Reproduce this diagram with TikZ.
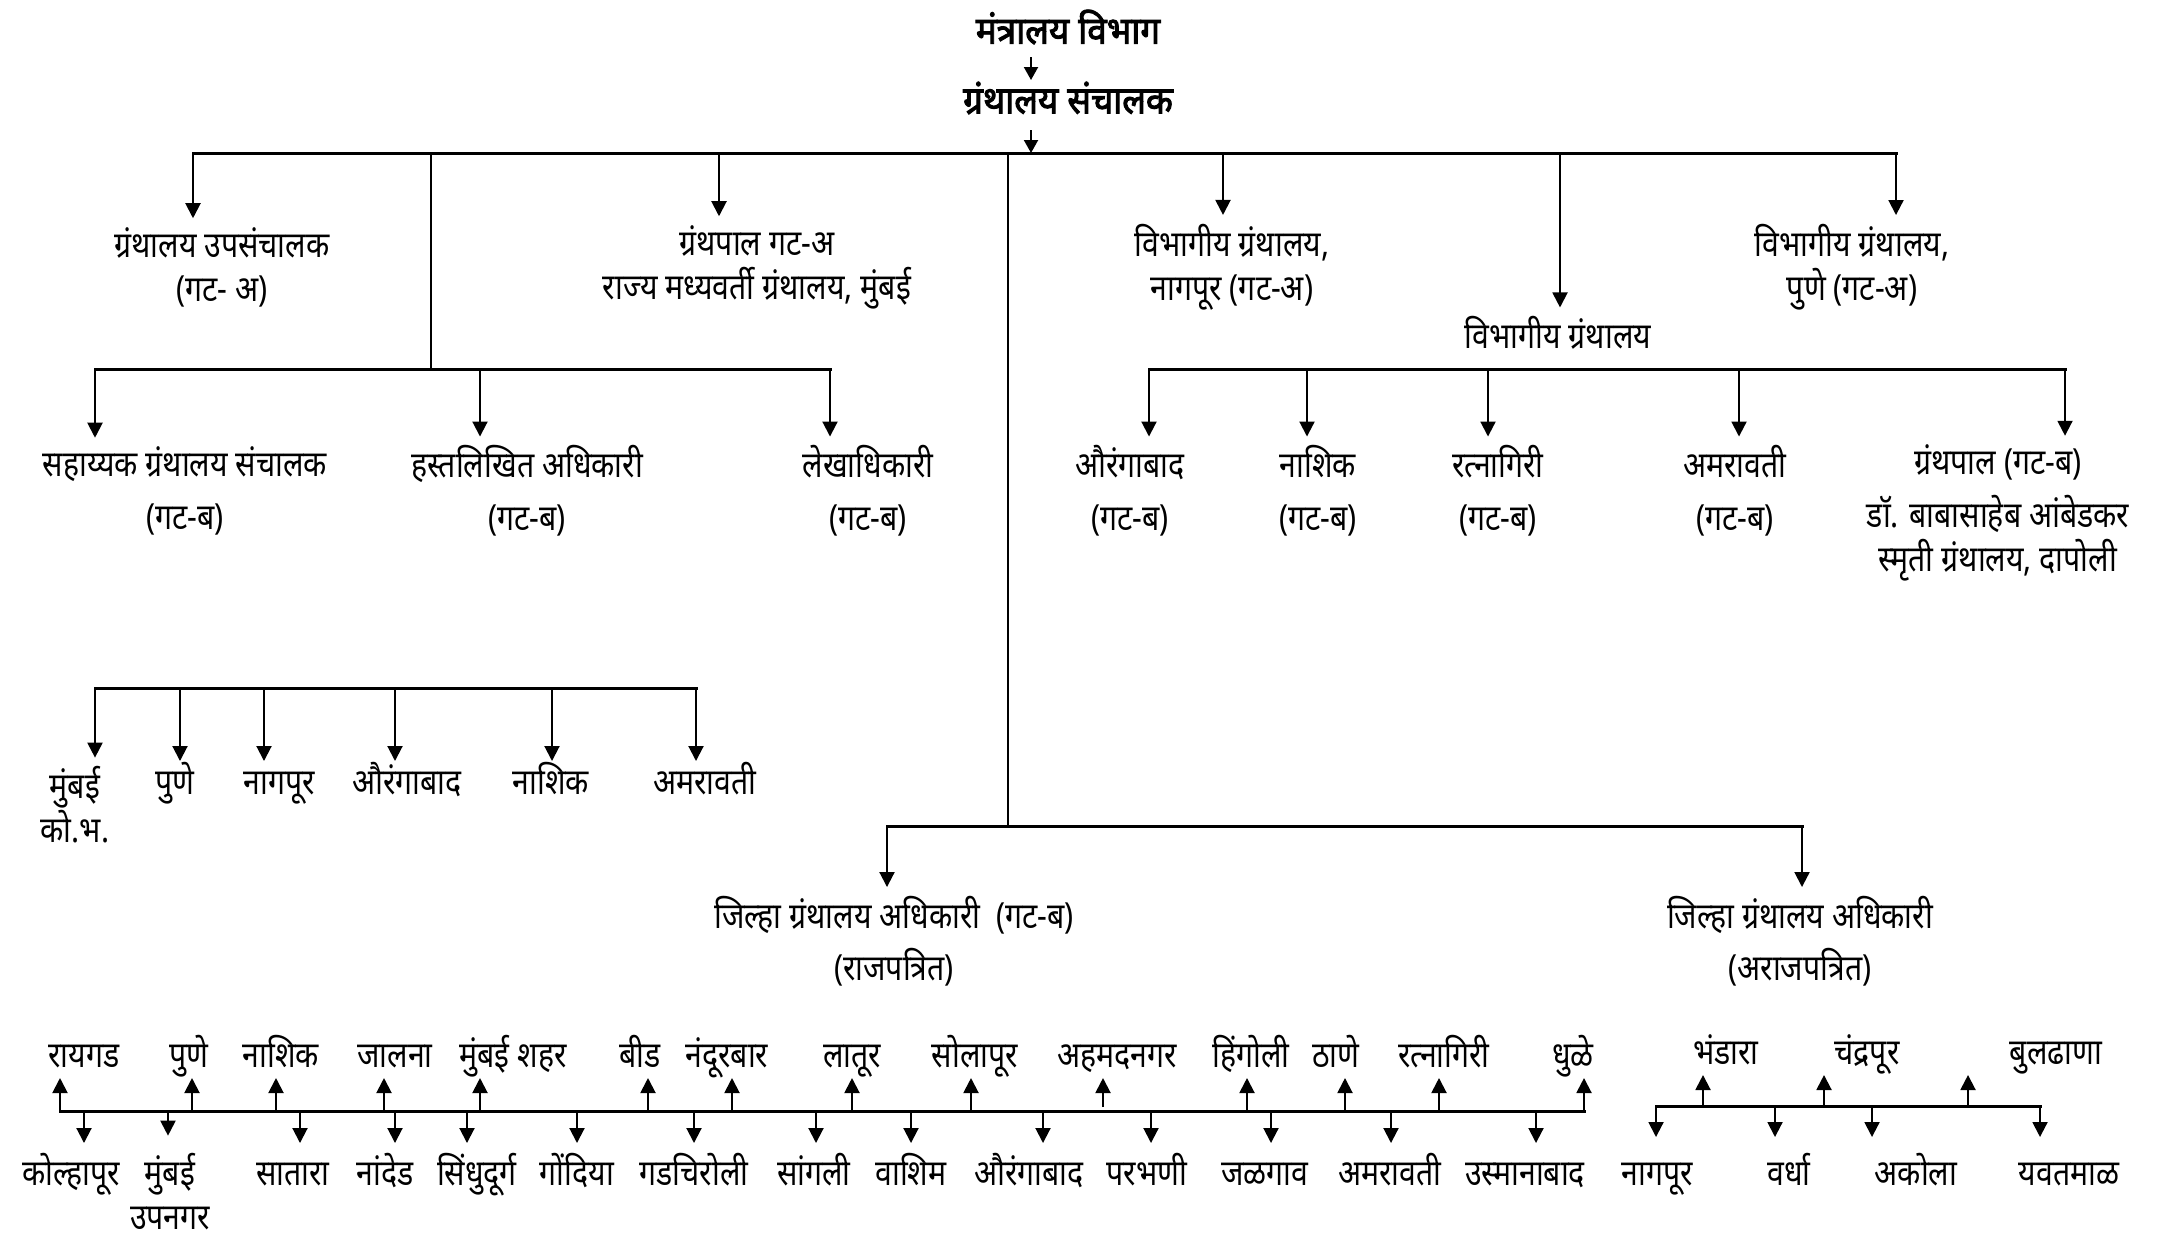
\documentclass[tikz,border=0pt]{standalone}
\usepackage{fontspec}
\setmainfont[Script=Devanagari,FakeStretch=0.84]{Noto Sans}
\newfontfamily\headfont[Script=Devanagari,FakeBold=2.5,FakeStretch=0.92]{Noto Sans}
\usetikzlibrary{arrows.meta}

\tikzset{every picture/.style={line width=1pt}}
\tikzset{
  lbl/.style={font=\fontsize{18}{22}\selectfont, inner sep=1.5pt, align=center},
  row/.style={lbl, text height=12pt, text depth=1pt},
  ttl/.style={font=\headfont\fontsize{19}{22}\selectfont, inner sep=2pt},
  bus/.style={line width=1.5pt, line cap=rect},
  arr/.style={line width=1pt, -{Triangle[length=7.5pt,width=7.5pt]}, shorten >=2.5pt},
  arrdn/.style={arr, shorten >=7pt},
  arrz/.style={line width=1pt, -{Triangle[length=6.5pt,width=7pt]}},
}

\begin{document}
\begin{tikzpicture}[x=0.5pt,y=0.5pt,yscale=-1,xscale=1]
	\useasboundingbox (0,0) rectangle (2167,1239);

	% Text Node
	\node[ttl] (mantralay) at (1068,27) {मंत्रालय विभाग};
	% Text Node
	\node[ttl] (sanchalak) at (1068,98) {ग्रंथालय संचालक};
	%Straight Lines
	\coordinate (m1) at (1031,57);
	\coordinate (m2) at (1031,80);
	\draw[arrz] (m1) -- (m2);
	\coordinate (s1) at (1031,130);
	\coordinate (s2) at (1031,153);
	\draw[arrz] (s1) -- (s2);

	%Straight Lines (top bus)
	\coordinate (b1l) at (193,153);
	\coordinate (b1c) at (431,153);
	\coordinate (b1b) at (719,153);
	\coordinate (b1d) at (1008,153);
	\coordinate (b1e) at (1223,153);
	\coordinate (b1f) at (1560,153);
	\coordinate (b1r) at (1896,153);
	\draw[bus] (b1l) -- (b1r);

	% Text Node
	\node[lbl] (upsan) at (222,267) {ग्रंथालय उपसंचालक\\(गट- अ)};
	% Text Node
	\node[lbl] (granthpal) at (757,267) {ग्रंथपाल गट-अ\\राज्य मध्यवर्ती ग्रंथालय, मुंबई};
	% Text Node
	\node[lbl] (vnagpur) at (1232,267) {विभागीय ग्रंथालय,\\नागपूर (गट-अ)};
	% Text Node
	\node[lbl] (vibhag) at (1558,333) {विभागीय ग्रंथालय};
	% Text Node
	\node[lbl] (vpune) at (1852,267) {विभागीय ग्रंथालय,\\पुणे (गट-अ)};
	\draw[arr] (b1l) -- (b1l |- upsan.north);
	\draw[arr] (b1b) -- (b1b |- granthpal.north);
	\draw[arr] (b1e) -- (b1e |- vnagpur.north);
	\draw[arr] (b1f) -- (b1f |- vibhag.north);
	\draw[arr] (b1r) -- (b1r |- vpune.north);

	%Straight Lines (left second bus)
	\coordinate (b2m) at (431,369);
	\draw (b1c) -- (b2m);
	\coordinate (b2l) at (95,369);
	\coordinate (b2b) at (480,369);
	\coordinate (b2r) at (830,369);
	\draw[bus] (b2l) -- (b2r);
	% Text Node
	\node[lbl] (sahayak) at (185,491) {सहाय्यक ग्रंथालय संचालक\\[4.5pt](गट-ब)};
	% Text Node
	\node[lbl] (hastalikhit) at (527,491) {हस्तलिखित अधिकारी\\[4.5pt](गट-ब)};
	% Text Node
	\node[lbl] (lekha) at (868,491) {लेखाधिकारी\\[4.5pt](गट-ब)};
	\draw[arr] (b2l) -- (b2l |- sahayak.north);
	\draw[arr] (b2b) -- (b2b |- hastalikhit.north);
	\draw[arr] (b2r) -- (b2r |- lekha.north);

	%Straight Lines (right second bus)
	\coordinate (v2l) at (1149,369);
	\coordinate (v2b) at (1307,369);
	\coordinate (v2c) at (1488,369);
	\coordinate (v2d) at (1739,369);
	\coordinate (v2r) at (2065,369);
	\draw[bus] (v2l) -- (v2r);
	% Text Node
	\node[lbl] (vaurangabad) at (1130,491) {औरंगाबाद\\[4.5pt](गट-ब)};
	% Text Node
	\node[lbl] (vnashik) at (1318,491) {नाशिक\\[4.5pt](गट-ब)};
	% Text Node
	\node[lbl] (vratnagiri) at (1498,491) {रत्नागिरी\\[4.5pt](गट-ब)};
	% Text Node
	\node[lbl] (vamravati) at (1735,491) {अमरावती\\[4.5pt](गट-ब)};
	% Text Node
	\node[lbl] (vdapoli) at (1998,513) {ग्रंथपाल (गट-ब)\\[4.5pt]डॉ. बाबासाहेब आंबेडकर\\स्मृती ग्रंथालय, दापोली};
	\draw[arr] (v2l) -- (v2l |- vaurangabad.north);
	\draw[arr] (v2b) -- (v2b |- vnashik.north);
	\draw[arr] (v2c) -- (v2c |- vratnagiri.north);
	\draw[arr] (v2d) -- (v2d |- vamravati.north);
	\draw[arr] (v2r) -- (v2r |- vdapoli.north);

	%Straight Lines (third bus)
	\coordinate (k1) at (95,688);
	\coordinate (k2) at (180,688);
	\coordinate (k3) at (264,688);
	\coordinate (k4) at (395,688);
	\coordinate (k5) at (552,688);
	\coordinate (k6) at (696,688);
	\draw[bus] (k1) -- (k6);
	% Text Node
	\node[lbl] (kmumbai) at (75,805) {मुंबई\\को.भ.};
	\node[row] (kpune) at (175,783) {पुणे};
	\node[row] (knagpur) at (279,783) {नागपूर};
	\node[row] (kaurangabad) at (407,783) {औरंगाबाद};
	\node[row] (knashik) at (551,783) {नाशिक};
	\node[row] (kamravati) at (705,783) {अमरावती};
	\draw[arr] (k1) -- (k1 |- kmumbai.north);
	\draw[arr] (k2) -- (k2 |- kpune.north);
	\draw[arr] (k3) -- (k3 |- knagpur.north);
	\draw[arr] (k4) -- (k4 |- kaurangabad.north);
	\draw[arr] (k5) -- (k5 |- knashik.north);
	\draw[arr] (k6) -- (k6 |- kamravati.north);

	%Straight Lines (district bus)
	\coordinate (j0) at (1008,826);
	\draw (b1d) -- (j0);
	\coordinate (jl) at (887,826);
	\coordinate (jr) at (1802,826);
	\draw[bus] (jl) -- (jr);
	% Text Node
	\node[lbl] (jilha1) at (894,941) {जिल्हा ग्रंथालय अधिकारी\ \ (गट-ब)\\[4pt](राजपत्रित)};
	% Text Node
	\node[lbl] (jilha2) at (1800,941) {जिल्हा ग्रंथालय अधिकारी\\[4pt](अराजपत्रित)};
	\draw[arr] (jl) -- (jl |- jilha1.north);
	\draw[arr] (jr) -- (jr |- jilha2.north);

	%Straight Lines (bottom bus, left)
	\coordinate (d1) at (60,1111);
	\coordinate (d2) at (84,1111);
	\coordinate (d3) at (168,1111);
	\coordinate (d4) at (192,1111);
	\coordinate (d5) at (276,1111);
	\coordinate (d6) at (300,1111);
	\coordinate (d7) at (384,1111);
	\coordinate (d8) at (395,1111);
	\coordinate (d9) at (467,1111);
	\coordinate (d10) at (480,1111);
	\coordinate (d11) at (577,1111);
	\coordinate (d12) at (648,1111);
	\coordinate (d13) at (694,1111);
	\coordinate (d14) at (732,1111);
	\coordinate (d15) at (816,1111);
	\coordinate (d16) at (852,1111);
	\coordinate (d17) at (911,1111);
	\coordinate (d18) at (971,1111);
	\coordinate (d19) at (1043,1111);
	\coordinate (d20) at (1103,1107);
	\coordinate (d21) at (1151,1111);
	\coordinate (d22) at (1247,1111);
	\coordinate (d23) at (1271,1111);
	\coordinate (d24) at (1345,1111);
	\coordinate (d25) at (1391,1111);
	\coordinate (d26) at (1439,1111);
	\coordinate (d27) at (1536,1111);
	\coordinate (d28) at (1584,1111);
	\draw[bus] (d1) -- (d28);

	% Text Node (upper row)
	\node[row] (raigad) at (84,1056) {रायगड};
	\node[row] (pune) at (189,1056) {पुणे};
	\node[row] (nashik) at (281,1056) {नाशिक};
	\node[row] (jalna) at (395,1056) {जालना};
	\node[row] (mumbaishahar) at (513,1056) {मुंबई शहर};
	\node[row] (beed) at (640,1056) {बीड};
	\node[row] (nandurbar) at (727,1056) {नंदूरबार};
	\node[row] (latur) at (852,1056) {लातूर};
	\node[row] (solapur) at (975,1056) {सोलापूर};
	\node[row] (ahmednagar) at (1117,1056) {अहमदनगर};
	\node[row] (hingoli) at (1251,1056) {हिंगोली};
	\node[row] (thane) at (1336,1056) {ठाणे};
	\node[row] (ratnagiri) at (1444,1056) {रत्नागिरी};
	\node[row] (dhule) at (1573,1056) {धुळे};
	\draw[arr] (d1) -- (d1 |- raigad.south);
	\draw[arr] (d4) -- (d4 |- pune.south);
	\draw[arr] (d5) -- (d5 |- nashik.south);
	\draw[arr] (d7) -- (d7 |- jalna.south);
	\draw[arr] (d10) -- (d10 |- mumbaishahar.south);
	\draw[arr] (d12) -- (d12 |- beed.south);
	\draw[arr] (d14) -- (d14 |- nandurbar.south);
	\draw[arr] (d16) -- (d16 |- latur.south);
	\draw[arr] (d18) -- (d18 |- solapur.south);
	\draw[arr] (d20) -- (d20 |- ahmednagar.south);
	\draw[arr] (d22) -- (d22 |- hingoli.south);
	\draw[arr] (d24) -- (d24 |- thane.south);
	\draw[arr] (d26) -- (d26 |- ratnagiri.south);
	\draw[arr] (d28) -- (d28 |- dhule.south);

	% Text Node (lower row)
	\node[row] (kolhapur) at (71,1174) {कोल्हापूर};
	\node[lbl] (mumbaiupnagar) at (170,1192) {मुंबई\\उपनगर};
	\node[row] (satara) at (293,1174) {सातारा};
	\node[row] (nanded) at (385,1174) {नांदेड};
	\node[row] (sindhudurg) at (477,1174) {सिंधुदूर्ग};
	\node[row] (gondia) at (577,1174) {गोंदिया};
	\node[row] (gadchiroli) at (694,1174) {गडचिरोली};
	\node[row] (sangli) at (814,1174) {सांगली};
	\node[row] (washim) at (911,1174) {वाशिम};
	\node[row] (aurangabad) at (1029,1174) {औरंगाबाद};
	\node[row] (parbhani) at (1147,1174) {परभणी};
	\node[row] (jalgaon) at (1265,1174) {जळगाव};
	\node[row] (amravati) at (1390,1174) {अमरावती};
	\node[row] (osmanabad) at (1525,1174) {उस्मानाबाद};
	\draw[arrdn] (d2) -- (d2 |- kolhapur.north);
	\draw[arrdn] (d3) -- (d3 |- mumbaiupnagar.north);
	\draw[arrdn] (d6) -- (d6 |- satara.north);
	\draw[arrdn] (d8) -- (d8 |- nanded.north);
	\draw[arrdn] (d9) -- (d9 |- sindhudurg.north);
	\draw[arrdn] (d11) -- (d11 |- gondia.north);
	\draw[arrdn] (d13) -- (d13 |- gadchiroli.north);
	\draw[arrdn] (d15) -- (d15 |- sangli.north);
	\draw[arrdn] (d17) -- (d17 |- washim.north);
	\draw[arrdn] (d19) -- (d19 |- aurangabad.north);
	\draw[arrdn] (d21) -- (d21 |- parbhani.north);
	\draw[arrdn] (d23) -- (d23 |- jalgaon.north);
	\draw[arrdn] (d25) -- (d25 |- amravati.north);
	\draw[arrdn] (d27) -- (d27 |- osmanabad.north);

	%Straight Lines (bottom bus, right)
	\coordinate (e1) at (1656,1106);
	\coordinate (e2) at (1703,1106);
	\coordinate (e3) at (1775,1106);
	\coordinate (e4) at (1824,1106);
	\coordinate (e5) at (1872,1106);
	\coordinate (e6) at (1968,1106);
	\coordinate (e7) at (2040,1106);
	\draw[bus] (e1) -- (e7);
	% Text Node
	\node[row] (bhandara) at (1726,1053) {भंडारा};
	\node[row] (chandrapur) at (1867,1053) {चंद्रपूर};
	\node[row] (buldhana) at (2056,1053) {बुलढाणा};
	\node[row] (nagpur) at (1657,1174) {नागपूर};
	\node[row] (wardha) at (1789,1174) {वर्धा};
	\node[row] (akola) at (1916,1174) {अकोला};
	\node[row] (yavatmal) at (2069,1174) {यवतमाळ};
	\draw[arr] (e2) -- (e2 |- bhandara.south);
	\draw[arr] (e4) -- (e4 |- chandrapur.south);
	\draw[arr] (e6) -- (e6 |- buldhana.south);
	\draw[arrdn, shorten >=10pt] (e1) -- (e1 |- nagpur.north);
	\draw[arrdn, shorten >=10pt] (e3) -- (e3 |- wardha.north);
	\draw[arrdn, shorten >=10pt] (e5) -- (e5 |- akola.north);
	\draw[arrdn, shorten >=10pt] (e7) -- (e7 |- yavatmal.north);

\end{tikzpicture}
\end{document}
